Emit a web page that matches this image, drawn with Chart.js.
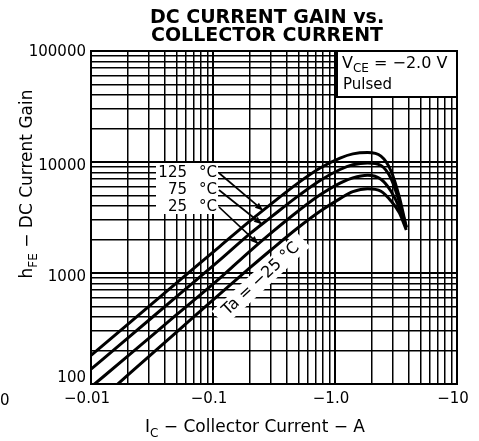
<!DOCTYPE html>
<html><head><meta charset="utf-8">
<script src="https://cdn.jsdelivr.net/npm/chart.js@4/dist/chart.umd.min.js"></script>
<style>html,body{margin:0;padding:0;background:#fff}#wrap{width:479px;height:441px;position:relative}</style>
</head><body><div id="wrap"><canvas id="c" width="479" height="441"></canvas></div>
<script>
const currentA = [0.01, 0.02, 0.05, 0.114, 0.2, 0.3, 0.5, 0.755, 1.10, 1.40, 1.85, 2.38, 2.88, 3.37, 3.84];
const gain125 = [181, 345, 809, 1740, 2935, 4200, 6490, 8830, 10860, 11830, 12160, 11300, 8300, 4830, 2590];
const gain75  = [136, 259, 609, 1310, 2250, 3200, 4950, 6820, 8560, 9430, 9820, 9300, 7100, 4350, 2590];
const gain25  = [94, 178, 419, 900, 1570, 2300, 3620, 5060, 6460, 7200, 7600, 7000, 5450, 3850, 2540];
const gainM25 = [61, 120, 292, 650, 1110, 1620, 2570, 3600, 4680, 5400, 5750, 5450, 4450, 3480, 2440];
const xTickValues = [0.01, 0.1, 1, 10];
const xTickLabels = ['\u22120.01', '\u22120.1', '\u22121.0', '\u221210'];
const yTickValues = [100, 1000, 10000, 100000];
const yTickLabels = ['100', '1000', '10000', '100000'];
const curveLabels = ['125', '75', '25'];
const arrowTargetsA = [0.257, 0.252, 0.235];

const FONT = "'DejaVu Sans', sans-serif";
function isDecade(v){ const l = Math.log10(v); return Math.abs(l - Math.round(l)) < 1e-6; }
function logTicks(min, max){
  const t = [];
  for (let e = Math.round(Math.log10(min)); e < Math.round(Math.log10(max)); e++) {
    for (let k = 1; k < 10; k++) t.push({value: +(k * Math.pow(10, e)).toPrecision(6)});
  }
  t.push({value: max});
  return t;
}
function findLabel(vals, labels, v){
  const i = vals.findIndex(t => Math.abs(t - v) / t < 1e-6);
  return i >= 0 ? labels[i] : '';
}
function pts(g){ return currentA.map((x, i) => ({x: x, y: g[i]})); }
function interpGain(g, I){
  for (let i = 0; i < currentA.length - 1; i++) {
    if (I >= currentA[i] && I <= currentA[i+1]) {
      const f = (Math.log(I) - Math.log(currentA[i])) / (Math.log(currentA[i+1]) - Math.log(currentA[i]));
      return Math.exp(Math.log(g[i]) + f * (Math.log(g[i+1]) - Math.log(g[i])));
    }
  }
  return g[g.length - 1];
}

function drawParts(ctx, parts, x, y, size, align){
  const subSize = Math.round(size * 0.72);
  let w = 0;
  const widths = parts.map(p => { ctx.font = (p.sub ? subSize : size) + 'px ' + FONT; const m = ctx.measureText(p.t).width; w += m; return m; });
  let cx = align === 'center' ? x - w / 2 : x;
  parts.forEach((p, i) => {
    ctx.font = (p.sub ? subSize : size) + 'px ' + FONT;
    ctx.fillText(p.t, cx, p.sub ? y + size * 0.28 : y);
    cx += widths[i];
  });
}

const deco = {
  id: 'deco',
  beforeDatasetsDraw(chart){
    const ctx = chart.ctx;
    ctx.save();
    ctx.fillStyle = '#fff';
    ctx.fillRect(156, 163, 62, 51);
    ctx.save();
    ctx.translate(261, 279);
    ctx.rotate(-43 * Math.PI / 180);
    ctx.fillRect(-58, -10, 116, 20);
    ctx.restore();
    ctx.fillRect(337, 51, 120, 46);
    ctx.strokeStyle = '#000';
    ctx.lineWidth = 2;
    ctx.strokeRect(337, 51, 120, 46);
    ctx.restore();
  },
  afterDatasetsDraw(chart){
    const ctx = chart.ctx;
    const xs = chart.scales.x, ys = chart.scales.y;
    const ca = chart.chartArea;
    ctx.save();
    ctx.fillStyle = '#000';
    ctx.strokeStyle = '#000';
    ctx.lineWidth = 2;
    ctx.strokeRect(ca.left, ca.top, ca.right - ca.left, ca.bottom - ca.top);
    // y tick labels
    ctx.font = '15px ' + FONT;
    ctx.textAlign = 'right';
    ctx.textBaseline = 'middle';
    yTickValues.forEach((v, i) => {
      const py = ys.getPixelForValue(v);
      const off = (i === 0) ? -6 : (i === yTickValues.length - 1 ? 1 : 4);
      ctx.fillText(yTickLabels[i], ca.left - 5, py + off);
    });
    // title
    ctx.textBaseline = 'alphabetic';
    ctx.textAlign = 'center';
    ctx.font = 'bold 19px ' + FONT;
    ctx.fillText('DC CURRENT GAIN vs.', 267, 23);
    ctx.fillText('COLLECTOR CURRENT', 267, 41);
    // VCE box text
    ctx.textAlign = 'left';
    drawParts(ctx, [{t:'V'}, {t:'CE', sub:true}, {t:' = \u22122.0 V'}], 342, 68, 16, 'left');
    ctx.font = '15px ' + FONT;
    ctx.fillText('Pulsed', 343, 89);
    // curve labels
    const rows = [173, 190, 207];
    const series = [gain125, gain75, gain25];
    ctx.font = '15px ' + FONT;
    ctx.textBaseline = 'middle';
    rows.forEach((ry, i) => {
      ctx.textAlign = 'right';
      ctx.fillText(curveLabels[i], 187, ry);
      ctx.textAlign = 'left';
      ctx.fillText('\u00b0C', 199, ry);
      const I = arrowTargetsA[i];
      const tx = xs.getPixelForValue(I), ty = ys.getPixelForValue(interpGain(series[i], I));
      const sx = 219, sy = ry;
      ctx.lineWidth = 1.7;
      ctx.beginPath(); ctx.moveTo(sx, sy); ctx.lineTo(tx, ty); ctx.stroke();
      const ang = Math.atan2(ty - sy, tx - sx);
      ctx.beginPath();
      ctx.moveTo(tx, ty);
      ctx.lineTo(tx - 8 * Math.cos(ang) + 3.2 * Math.sin(ang), ty - 8 * Math.sin(ang) - 3.2 * Math.cos(ang));
      ctx.lineTo(tx - 8 * Math.cos(ang) - 3.2 * Math.sin(ang), ty - 8 * Math.sin(ang) + 3.2 * Math.cos(ang));
      ctx.closePath(); ctx.fill();
    });
    // Ta label
    ctx.save();
    ctx.translate(261, 279);
    ctx.rotate(-43 * Math.PI / 180);
    ctx.textAlign = 'center';
    ctx.textBaseline = 'middle';
    ctx.font = '16px ' + FONT;
    ctx.fillText('Ta = \u221225 \u00b0C', 0, 0);
    ctx.restore();
    // x-axis title
    ctx.textBaseline = 'alphabetic';
    drawParts(ctx, [{t:'I'}, {t:'C', sub:true}, {t:' \u2212 Collector Current \u2212 A'}], 255, 432, 17, 'center');
    // y-axis title
    ctx.save();
    ctx.translate(32, 184);
    ctx.rotate(-Math.PI / 2);
    drawParts(ctx, [{t:'h'}, {t:'FE', sub:true}, {t:' \u2212 DC Current Gain'}], 0, 0, 17, 'center');
    ctx.restore();
    // stray glyph at bottom-left edge
    ctx.font = '15px ' + FONT;
    ctx.textAlign = 'left';
    ctx.fillText('0', 0, 405);
    ctx.restore();
  }
};

const gridLW = (c) => (c.tick && isDecade(c.tick.value)) ? 2 : 1.5;

new Chart(document.getElementById('c'), {
  type: 'line',
  data: {
    datasets: [
      {label: '125 °C', data: pts(gain125)},
      {label: '75 °C', data: pts(gain75)},
      {label: '25 °C', data: pts(gain25)},
      {label: '-25 °C', data: pts(gainM25)}
    ].map(d => Object.assign(d, {borderColor: '#000', borderWidth: 3, pointRadius: 0, fill: false, cubicInterpolationMode: 'monotone'}))
  },
  plugins: [deco],
  options: {
    responsive: false,
    devicePixelRatio: 1,
    animation: false,
    layout: {padding: {top: 51, right: 22, left: 0, bottom: 0}},
    plugins: {legend: {display: false}, tooltip: {enabled: false}, title: {display: false}},
    scales: {
      x: {
        type: 'logarithmic', min: 0.01, max: 10,
        afterBuildTicks: (s) => { s.ticks = logTicks(0.01, 10); },
        afterFit: (s) => { s.height = 57; },
        ticks: {autoSkip: false, maxRotation: 0, minRotation: 0, padding: 6, labelOffset: -4, color: '#000',
          font: {family: 'DejaVu Sans', size: 15},
          callback: (v) => findLabel(xTickValues, xTickLabels, v)},
        grid: {color: '#000', lineWidth: gridLW, drawTicks: false},
        border: {color: '#000', width: 2}
      },
      y: {
        type: 'logarithmic', min: 100, max: 100000,
        afterBuildTicks: (s) => { s.ticks = logTicks(100, 100000); },
        afterFit: (s) => { s.width = 91; },
        ticks: {autoSkip: false, padding: 5, color: '#000', font: {family: 'DejaVu Sans', size: 15},
          callback: () => ''},
        grid: {color: '#000', lineWidth: gridLW, drawTicks: false},
        border: {color: '#000', width: 2}
      }
    }
  }
});
</script>
</body></html>
